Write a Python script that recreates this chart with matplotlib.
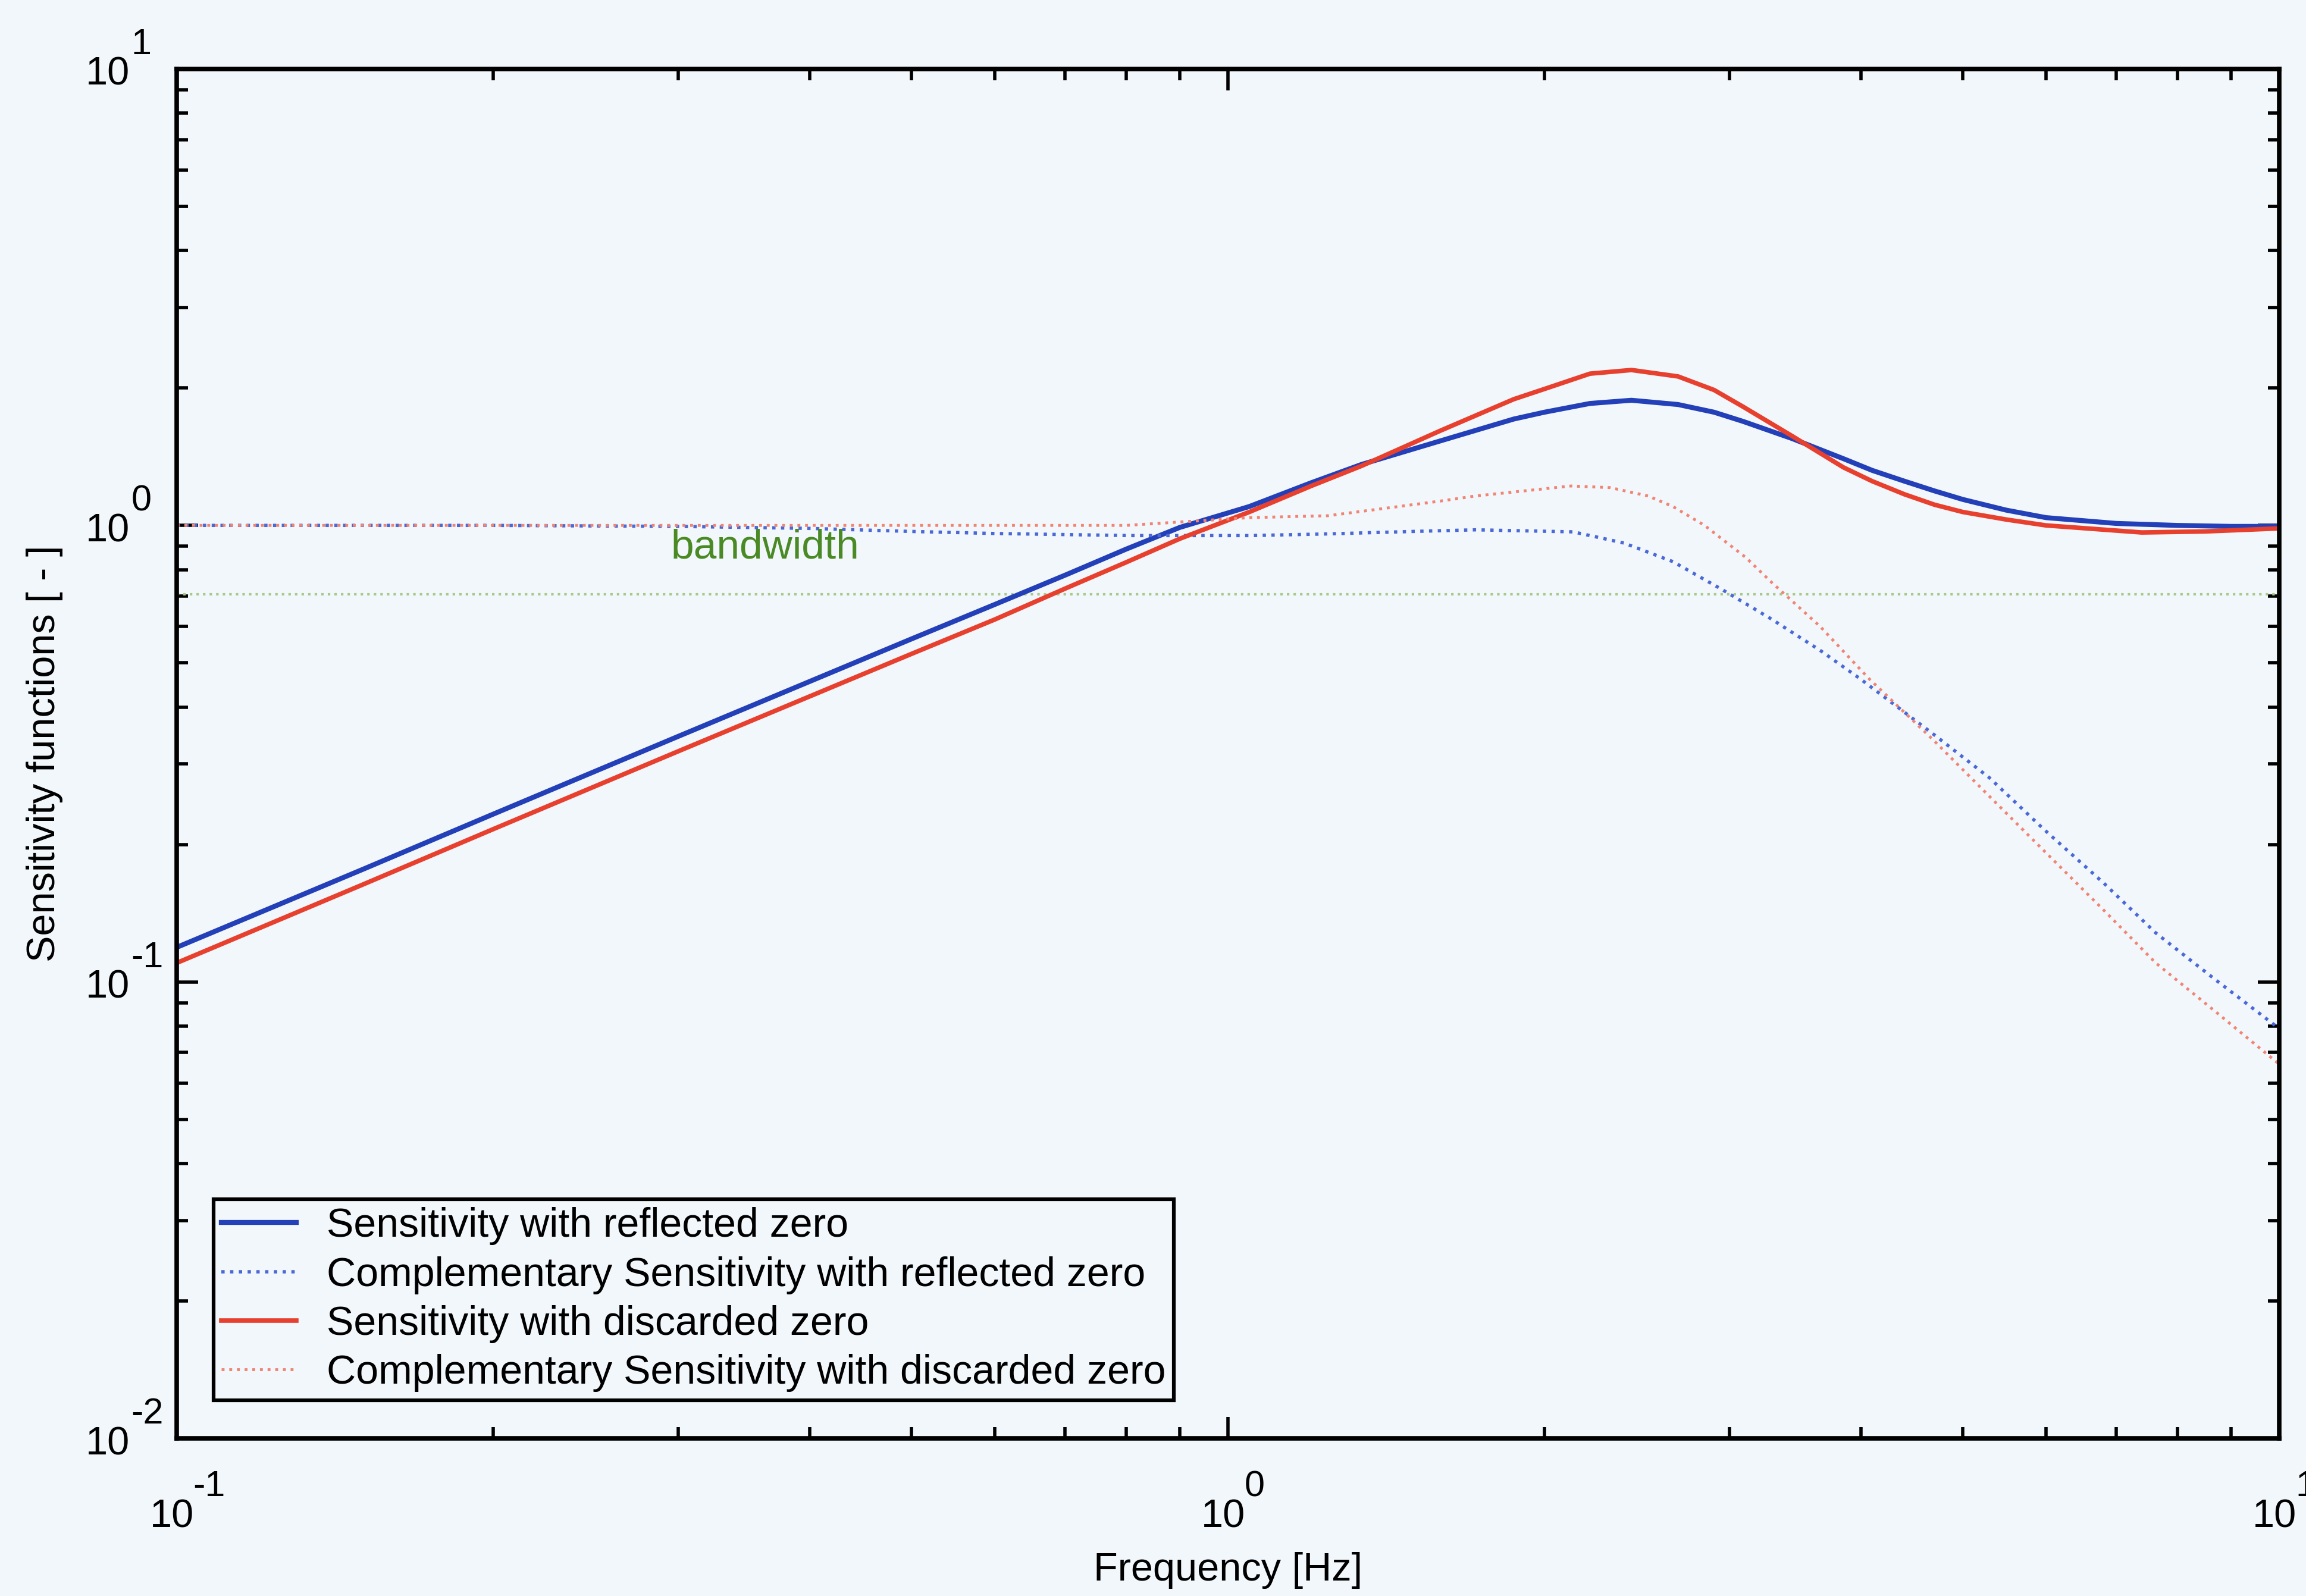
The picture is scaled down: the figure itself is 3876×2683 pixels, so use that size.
import matplotlib
matplotlib.use('Agg')
import matplotlib.pyplot as plt

plt.rcParams['font.family'] = ['Liberation Sans', 'DejaVu Sans']

# Sensitivity with reflected zero (solid blue)
f_s_refl = [0.1, 0.15, 0.2, 0.3, 0.4, 0.5, 0.6, 0.7, 0.8, 0.9, 1.048, 1.2, 1.34, 1.59, 1.87, 2.0, 2.21,
            2.42, 2.68, 2.9, 3.09, 3.44, 3.85, 4.1, 4.4, 4.7, 5.0, 5.5, 6.0, 7.0, 8.0, 9.0, 10.0]
s_refl = [0.119, 0.176, 0.233, 0.345, 0.455, 0.564, 0.671, 0.778, 0.887, 0.99, 1.10, 1.24, 1.36, 1.53,
          1.71, 1.77, 1.85, 1.88, 1.84, 1.77, 1.69, 1.55, 1.40, 1.32, 1.25, 1.19, 1.14, 1.08, 1.04, 1.01,
          1.0, 0.995, 0.995]

# Complementary sensitivity with reflected zero (dotted blue)
f_t_refl = [0.1, 0.2, 0.3, 0.4, 0.5, 0.6, 0.807, 1.05, 1.245, 1.5, 1.72, 2.13, 2.38, 2.65, 2.95, 3.29,
            3.66, 3.99, 4.68, 5.3, 5.97, 6.8, 7.63, 8.7, 10.0]
t_refl = [1.0, 1.0, 0.995, 0.985, 0.97, 0.96, 0.95, 0.95, 0.958, 0.97, 0.978, 0.968, 0.915, 0.833, 0.724,
          0.623, 0.532, 0.462, 0.35, 0.28, 0.216, 0.165, 0.128, 0.101, 0.079]

# Sensitivity with discarded zero (solid red)
f_s_disc = [0.1, 0.15, 0.2, 0.3, 0.4, 0.5, 0.6, 0.7, 0.8, 0.9, 1.048, 1.2, 1.34, 1.59, 1.87, 2.0, 2.21,
            2.42, 2.68, 2.9, 3.09, 3.44, 3.85, 4.1, 4.4, 4.7, 5.0, 5.5, 6.0, 7.4, 8.5, 10.0]
s_disc = [0.110, 0.163, 0.216, 0.320, 0.422, 0.523, 0.622, 0.727, 0.83, 0.935, 1.07, 1.22, 1.35, 1.61,
          1.89, 1.99, 2.15, 2.19, 2.12, 1.98, 1.82, 1.57, 1.34, 1.25, 1.17, 1.11, 1.07, 1.03, 1.0, 0.965,
          0.97, 0.985]

# Complementary sensitivity with discarded zero (dotted red)
f_t_disc = [0.1, 0.2, 0.3, 0.4, 0.5, 0.6, 0.8, 1.048, 1.245, 1.59, 1.72, 2.12, 2.31, 2.51, 2.65, 2.84,
            3.11, 3.29, 3.66, 4.07, 4.68, 5.3, 5.97, 6.8, 7.63, 8.7, 10.0]
t_disc = [1.0, 1.0, 1.0, 1.0, 1.0, 1.0, 1.0, 1.04, 1.05, 1.13, 1.16, 1.22, 1.21, 1.16, 1.10, 1.0,
          0.85, 0.75, 0.60, 0.462, 0.34, 0.255, 0.194, 0.144, 0.110, 0.086, 0.066]

bandwidth_level = 0.707
x_range = [0.1, 10.0]
x_decades = [-1, 0, 1]
y_decades = [-2, -1, 0, 1]

labels = ['Sensitivity with reflected zero',
          'Complementary Sensitivity with reflected zero',
          'Sensitivity with discarded zero',
          'Complementary Sensitivity with discarded zero']

paper = '#f2f7fb'
blue = '#2340b8'
red = '#e8402f'

fig = plt.figure(figsize=(38.76, 26.83), dpi=100, facecolor=paper)
ax = fig.add_axes([0.0766, 0.0988, 0.9118, 0.858])
ax.set_facecolor(paper)

ax.plot(x_range, [bandwidth_level, bandwidth_level], ':', color='#a9c98a', lw=3)
ax.plot(f_s_refl, s_refl, '-', color=blue, lw=6, label=labels[0])
ax.plot(f_t_refl, t_refl, ':', color='#4a68d6', lw=4, label=labels[1])
ax.plot(f_s_disc, s_disc, '-', color=red, lw=5.5, label=labels[2])
ax.plot(f_t_disc, t_disc, ':', color='#f08575', lw=3.5, label=labels[3])

ax.text(0.295, 0.895, 'bandwidth', color='#4a8a25', fontsize=50, va='center', ha='left')

ax.set_xscale('log')
ax.set_yscale('log')
ax.set_xlim(0.1, 10)
ax.set_ylim(0.01, 10)

for s in ax.spines.values():
    s.set_linewidth(5.5)
ax.tick_params(which='both', direction='in', top=True, right=True, width=4,
               labelbottom=False, labelleft=False)
ax.tick_params(which='major', length=26)
ax.tick_params(which='minor', length=14)

# old-style "10" with a large raised exponent
for e in x_decades:
    ax.annotate('10', xy=(10.0 ** e, 0), xycoords=('data', 'axes fraction'), xytext=(-6, -108),
                textcoords='offset points', ha='center', va='baseline', fontsize=48, annotation_clip=False)
    ax.annotate(str(e), xy=(10.0 ** e, 0), xycoords=('data', 'axes fraction'), xytext=(20, -70),
                textcoords='offset points', ha='left', va='baseline', fontsize=44, annotation_clip=False)
for e in y_decades:
    ax.annotate('10', xy=(0, 10.0 ** e), xycoords=('axes fraction', 'data'), xytext=(-57, -19.5),
                textcoords='offset points', ha='right', va='baseline', fontsize=48, annotation_clip=False)
    ax.annotate(str(e), xy=(0, 10.0 ** e), xycoords=('axes fraction', 'data'), xytext=(-55, 18),
                textcoords='offset points', ha='left', va='baseline', fontsize=44, annotation_clip=False)

ax.set_xlabel('Frequency [Hz]', fontsize=48)
ax.set_ylabel('Sensitivity functions [ - ]', fontsize=48)
ax.xaxis.set_label_coords(0.5, -0.083)
ax.yaxis.set_label_coords(-0.054, 0.5)

leg = ax.legend(loc='lower left', bbox_to_anchor=(0.0175, 0.0278), borderaxespad=0, fontsize=49,
                handlelength=1.85, frameon=True, fancybox=False, borderpad=0.2, labelspacing=0.27,
                handletextpad=0.75)
leg.get_frame().set_edgecolor('black')
leg.get_frame().set_linewidth(4.5)
leg.get_frame().set_facecolor(paper)
leg.get_frame().set_alpha(1)

fig.savefig('out.png', dpi=100, facecolor=paper)
